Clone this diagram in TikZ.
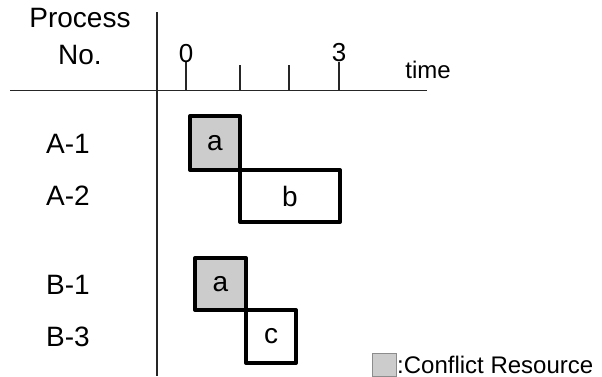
\documentclass[tikz,border=0pt]{standalone}
\usepackage{fontspec}
\setmainfont{Liberation Sans}
\begin{document}
\begin{tikzpicture}[x=1pt,y=-1pt,
  lbl/.style={inner sep=0pt, font=\fontsize{28}{32}\selectfont},
  tasknode/.style={draw=black, line width=4pt, line join=round, inner sep=0pt, font=\fontsize{28}{32}\selectfont},
  conflict/.style={tasknode, fill=black!20},
  axis/.style={line width=1.2pt, black!85}]
\useasboundingbox (0,0) rectangle (602,376);
% axes
\coordinate (vtop) at (157,12);
\coordinate (vbot) at (157,376);
\coordinate (hl) at (10,90.5);
\coordinate (hr) at (427,90.5);
\draw[axis] (vtop) -- (vbot);
\draw[axis] (hl) -- (hr);
\foreach \x/\t in {186/62, 240/65, 289/65, 339/62}{
  \draw[axis] (\x,90.5) -- (\x,\t);
}
\node[lbl, anchor=base, font=\fontsize{26}{30}\selectfont] (t0) at (186,62) {0};
\node[lbl, anchor=base, font=\fontsize{26}{30}\selectfont] (t3) at (339,61) {3};
\node[lbl, anchor=base, font=\fontsize{24}{28}\selectfont] (time) at (428,78) {time};
\node[lbl, anchor=base] (proc) at (80,27) {Process};
\node[lbl, anchor=base] (no) at (80,64) {No.};
% process labels
\node[lbl] (A1) at (68,144) {A-1};
\node[lbl] (A2) at (68,196) {A-2};
\node[lbl] (B1) at (68,285) {B-1};
\node[lbl] (B3) at (68,337) {B-3};
% boxes
\node[conflict, minimum width=50pt, minimum height=54pt] (a1) at (215,143) {a};
\node[tasknode, minimum width=100pt, minimum height=52pt] (b) at (290,196) {b};
\node[conflict, minimum width=51pt, minimum height=52pt] (a2) at (220.5,284) {a};
\node[tasknode, minimum width=50pt, minimum height=53pt] (c) at (271,336.5) {c};
% legend
\node[draw=black!45, fill=black!20, line width=0.6pt, inner sep=0pt, minimum width=24pt, minimum height=23pt] (leg) at (384.5,365) {};
\node[lbl, anchor=base west, font=\fontsize{24}{28}\selectfont] (legtxt) at (397,373) {:Conflict Resource};
\end{tikzpicture}
\end{document}
